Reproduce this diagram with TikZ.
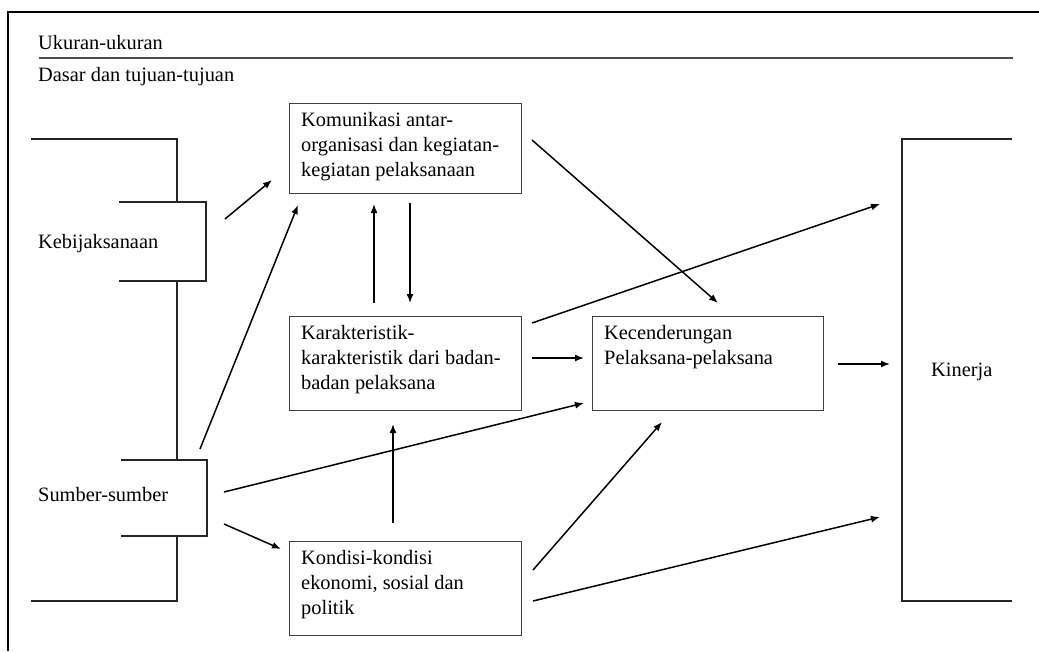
\documentclass[tikz,border=0pt]{standalone}
\usepackage{fontspec}
\setmainfont{Liberation Serif}
\usetikzlibrary{arrows.meta}
\begin{document}
\begin{tikzpicture}[x=1pt,y=-1pt,
  lbl/.style={font=\fontsize{20.4}{25}\selectfont, inner sep=0pt, anchor=base west},
  boxtxt/.style={font=\fontsize{20.4}{25}\selectfont, inner sep=0pt, anchor=north west, align=left, xshift=12pt, yshift=-9pt},
  box/.style={draw=black!75, line width=1.1pt, minimum width=232pt, minimum height=94pt, anchor=north west, inner sep=0pt},
  brk/.style={draw=black!85, line width=1.8pt, line join=miter},
  arr/.style={line width=1.5pt, -{Latex[length=9pt,width=7pt]}}]
\useasboundingbox (0,0) rectangle (1039,651);
% outer frame
\draw[line width=2pt, line join=miter] (8,651) -- (8,12) -- (1039,12);
\draw[line width=1.3pt, black!70] (39,58) -- (1013,58);
% header labels
\node[lbl] (ukuran) at (38,49) {Ukuran-ukuran};
\node[lbl] (dasar) at (38,81) {Dasar dan tujuan-tujuan};
% left bracket
\draw[brk] (31,139) -- (177,139) -- (177,202);
\draw[brk] (119,202) -- (206,202) -- (206,281) -- (119,281);
\draw[brk] (177,281) -- (177,460);
\draw[brk] (121,460) -- (207,460) -- (207,536) -- (121,536);
\draw[brk] (177,536) -- (177,601) -- (31,601);
\node[lbl] (kebij) at (38,248) {Kebijaksanaan};
\node[lbl] (sumber) at (38,501) {Sumber-sumber};
% right bracket
\draw[brk] (1012,139) -- (902,139) -- (902,601) -- (1012,601);
\node[lbl] (kinerja) at (931,376) {Kinerja};
% boxes
\node[box, minimum height=90pt] (kom) at (289,103) {};
\node[boxtxt] (komt) at (kom.north west) {Komunikasi antar-\\organisasi dan kegiatan-\\kegiatan pelaksanaan};
\node[box] (kar) at (289,316) {};
\node[boxtxt] (kart) at (kar.north west) {Karakteristik-\\karakteristik dari badan-\\badan pelaksana};
\node[box, minimum width=231pt] (kec) at (592,316) {};
\node[boxtxt] (kect) at (kec.north west) {Kecenderungan\\Pelaksana-pelaksana};
\node[box] (kon) at (289,541) {};
\node[boxtxt] (kont) at (kon.north west) {Kondisi-kondisi\\ekonomi, sosial dan\\politik};
% arrow end points
\coordinate (kebOut) at (225,219);
\coordinate (komIn1) at (272,180);
\coordinate (sumOut1) at (200,449);
\coordinate (komIn2) at (298,205);
\coordinate (karUp) at (374,303);
\coordinate (komIn3) at (374,204);
\coordinate (komOut1) at (410,203);
\coordinate (karIn1) at (410,303);
\coordinate (komOut2) at (532,140);
\coordinate (kecIn1) at (718,303);
\coordinate (karOut1) at (532,323);
\coordinate (kinIn1) at (880,204);
\coordinate (karOut2) at (532,358);
\coordinate (kecIn2) at (584,358);
\coordinate (sumOut2) at (224,492);
\coordinate (kecIn3) at (584,403);
\coordinate (sumOut3) at (224,524);
\coordinate (konIn) at (281,549);
\coordinate (konOut1) at (393,523);
\coordinate (karIn2) at (393,424);
\coordinate (konOut2) at (533,570);
\coordinate (kecIn4) at (662,422);
\coordinate (konOut3) at (533,601);
\coordinate (kinIn2) at (880,517);
\coordinate (kecOut) at (838,364);
\coordinate (kinIn3) at (890,364);
% arrows
\draw[arr] (kebOut) -- (komIn1);
\draw[arr] (sumOut1) -- (komIn2);
\draw[arr] (karUp) -- (komIn3);
\draw[arr] (komOut1) -- (karIn1);
\draw[arr] (komOut2) -- (kecIn1);
\draw[arr] (karOut1) -- (kinIn1);
\draw[arr] (karOut2) -- (kecIn2);
\draw[arr] (sumOut2) -- (kecIn3);
\draw[arr] (sumOut3) -- (konIn);
\draw[arr] (konOut1) -- (karIn2);
\draw[arr] (konOut2) -- (kecIn4);
\draw[arr] (konOut3) -- (kinIn2);
\draw[arr] (kecOut) -- (kinIn3);
\end{tikzpicture}
\end{document}
